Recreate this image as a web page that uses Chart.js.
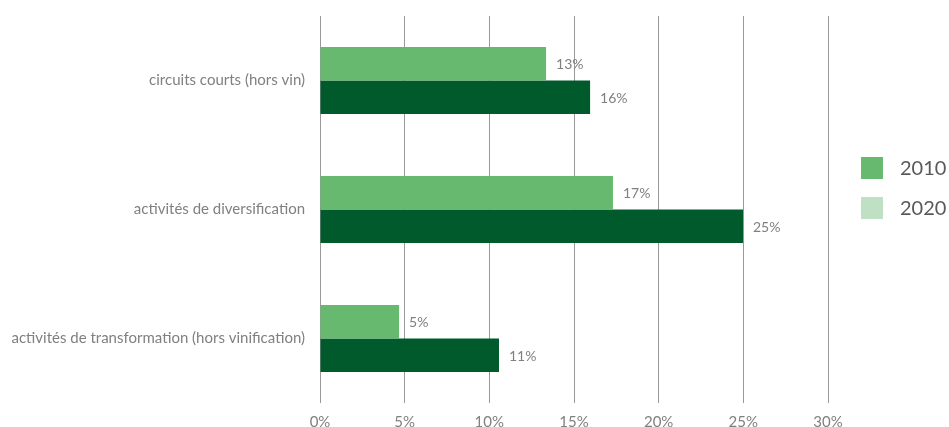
<!DOCTYPE html>
<html>
<head>
<meta charset="utf-8">
<script src="https://cdn.jsdelivr.net/npm/chart.js@4.4.1/dist/chart.umd.min.js"></script>
<style>
  body { margin: 0; background: #fff; }
  #wrap { width: 949px; height: 427px; }
</style>
</head>
<body>
<div id="wrap"><canvas id="chart"></canvas></div>
<script>
const categories = [
    'circuits courts (hors vin)',
    'activités de diversification',
    'activités de transformation (hors vinification)'
];
const seriesNames = ['2010', '2020'];
const values2010 = [13.35, 17.3, 4.67];
const values2020 = [15.95, 24.98, 10.57];
const xTicks = [0, 5, 10, 15, 20, 25, 30];

const barColors = ['#66b96e', '#005a2b'];
const legendColors = ['#66b96e', '#bfe0c3'];

// percent labels at the end of each bar
const barLabels = {
    id: 'barLabels',
    afterDatasetsDraw(chart) {
        const ctx = chart.ctx;
        ctx.save();
        ctx.font = '14px Lato';
        ctx.fillStyle = '#808080';
        ctx.textAlign = 'left';
        ctx.textBaseline = 'middle';
        chart.data.datasets.forEach((ds, i) => {
            chart.getDatasetMeta(i).data.forEach((bar, j) => {
                ctx.fillText(Math.round(ds.data[j]) + '%', bar.x + 10, bar.y + 1);
            });
        });
        ctx.restore();
    }
};

// legend block on the right of the plot
const sideLegend = {
    id: 'sideLegend',
    afterDraw(chart) {
        const ctx = chart.ctx;
        const x = chart.chartArea.right + 33;
        const y0 = 157;
        ctx.save();
        ctx.font = '20px Lato';
        ctx.textBaseline = 'middle';
        ctx.textAlign = 'left';
        seriesNames.forEach((name, i) => {
            const y = y0 + i * 40;
            ctx.fillStyle = legendColors[i];
            ctx.fillRect(x, y, 22, 22);
            ctx.fillStyle = '#595959';
            ctx.fillText(name, x + 39, y + 12);
        });
        ctx.restore();
    }
};

new Chart(document.getElementById('chart'), {
    type: 'bar',
    data: {
        labels: categories,
        datasets: [
            { label: seriesNames[0], data: values2010, backgroundColor: barColors[0] },
            { label: seriesNames[1], data: values2020, backgroundColor: barColors[1] }
        ]
    },
    options: {
        indexAxis: 'y',
        responsive: true,
        maintainAspectRatio: false,
        animation: false,
        categoryPercentage: 0.52,
        barPercentage: 1,
        layout: { padding: { top: 16, right: 121, left: 0, bottom: 0 } },
        scales: {
            x: {
                min: 0,
                max: 30,
                afterBuildTicks: axis => { axis.ticks = xTicks.map(v => ({ value: v })); },
                afterFit: axis => { axis.height = 24; },
                border: { display: false },
                grid: { color: '#999999', lineWidth: 1, drawTicks: false },
                ticks: {
                    padding: 10,
                    color: '#808080',
                    font: { family: 'Lato', size: 15 },
                    callback: v => v + '%'
                }
            },
            y: {
                afterFit: axis => {
                    axis.width = 320;
                    axis.paddingTop = 0;
                    axis.paddingBottom = 0;
                },
                border: { display: false },
                grid: { display: false, drawTicks: false },
                ticks: {
                    padding: 15,
                    color: '#808080',
                    font: { family: 'Lato', size: 15 }
                }
            }
        },
        plugins: {
            tooltip: { enabled: false },
            legend: { display: false }
        }
    },
    plugins: [barLabels, sideLegend]
});
</script>
</body>
</html>
